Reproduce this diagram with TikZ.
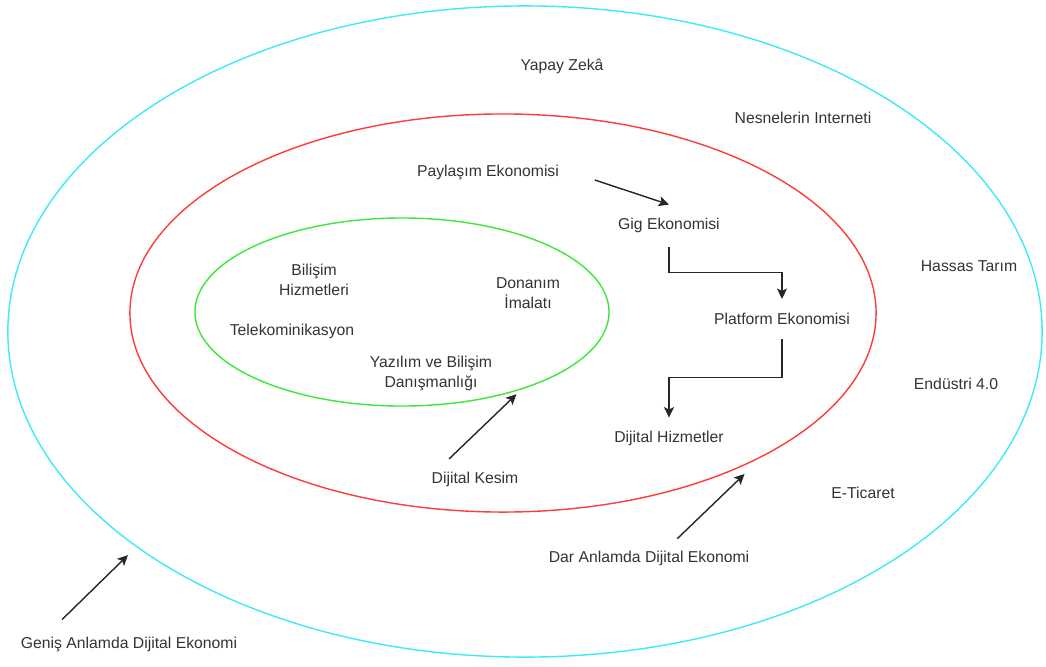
\documentclass[tikz,border=0pt]{standalone}
\usepackage{fontspec}
\setmainfont{Liberation Sans}
\usetikzlibrary{shapes.geometric,arrows.meta,calc}
\definecolor{cyanline}{HTML}{3FEAF5}
\definecolor{redline}{HTML}{FF3B3B}
\definecolor{greenline}{HTML}{3BE83B}
\definecolor{textgray}{HTML}{333333}

\begin{document}
\begin{tikzpicture}[x=0.025cm,y=-0.025cm,
ring/.style={ellipse,draw=#1,line width=1pt,inner sep=0pt},
txt/.style={text=textgray,align=center,inner sep=2pt,font=\fontsize{11.2}{14.2}\selectfont},
arr/.style={draw=black!85,line width=1pt,-{Stealth[length=2.6mm,width=2.5mm,inset=0.6mm]}}]
\useasboundingbox (0,0) rectangle (1046,666);
\node[ring=cyanline,minimum width=25.85cm,minimum height=16.275cm] (Out) at (525,331.5) {};
\node[ring=redline,minimum width=18.65cm,minimum height=9.95cm] (Mid) at (503,313) {};
\node[ring=greenline,minimum width=10.35cm,minimum height=4.7cm] (In) at (402,312) {};

\node[txt] (Yapay) at (562,66) {Yapay Zekâ};
\node[txt] (Nesne) at (803,118) {Nesnelerin Interneti};
\node[txt] (Hassas) at (969,266) {Hassas Tarım};
\node[txt] (Endus) at (956,384) {Endüstri 4.0};
\node[txt] (Ticaret) at (863,493) {E-Ticaret};
\node[txt] (Genis) at (129,644) {Geniş Anlamda Dijital Ekonomi};

\node[txt] (Pay) at (488,172) {Paylaşım Ekonomisi};
\node[txt] (Gig) at (669,225) {Gig Ekonomisi};
\node[txt] (Plat) at (782,319) {Platform Ekonomisi};
\node[txt] (Hizmet) at (669,438) {Dijital Hizmetler};
\node[txt] (Kesim) at (475,479) {Dijital Kesim};
\node[txt] (Dar) at (649,558) {Dar Anlamda Dijital Ekonomi};

\node[txt] (Bilisim) at (314,280) {Bilişim\\Hizmetleri};
\node[txt] (Donanim) at (528,293) {Donanım\\İmalatı};
\node[txt] (Tele) at (292,331) {Telekominikasyon};
\node[txt] (Yazilim) at (431,373) {Yazılım ve Bilişim\\Danışmanlığı};

\draw[arr] ([xshift=0.82cm,yshift=-0.2cm]Pay.east)--([yshift=0.25cm]Gig.north);
\draw[arr,shorten <=0.3cm,shorten >=0.28cm] (Gig.south) |- ($(Gig.south)!.5!(Plat.north)$) -| (Plat.north);
\draw[arr,shorten <=0.28cm,shorten >=0.25cm] (Plat.south) |- ($(Plat.south)!.5!(Hizmet.north)$) -| (Hizmet.north);
\draw[arr,shorten <=0.35cm,shorten >=0.17cm] ([xshift=-0.9cm]Kesim.north)--(In.-33.3);
\draw[arr,shorten <=0.32cm,shorten >=0.62cm] ([xshift=0.475cm]Dar.north)--(Mid.-29.4);
\draw[arr,shorten <=0.5cm,shorten >=0.29cm] ([xshift=-2.03cm]Genis.north)--(Out.-151.1);

\end{tikzpicture}
\end{document}
